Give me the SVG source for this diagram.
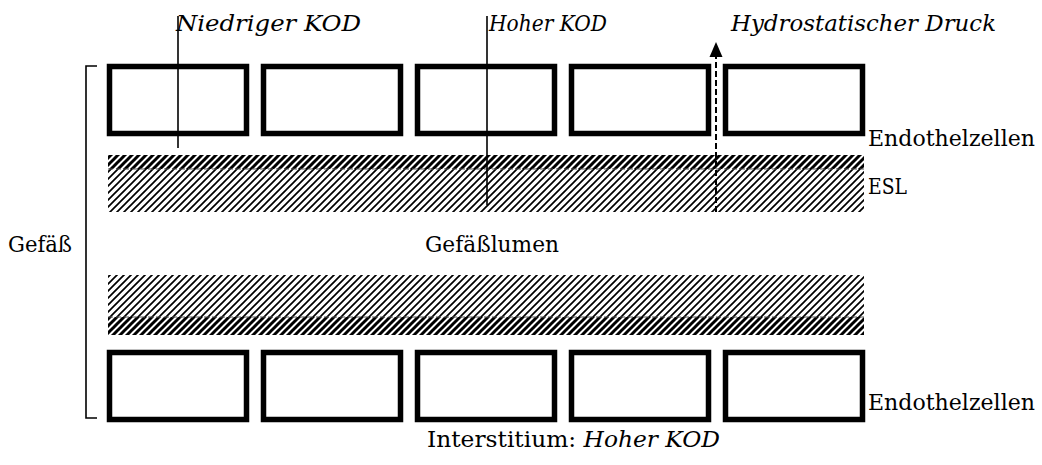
<svg xmlns="http://www.w3.org/2000/svg" width="1042" height="465" viewBox="0 0 1042 465">
<defs>
<pattern id="hl" patternUnits="userSpaceOnUse" width="7" height="7">
<path d="M-1,8 L8,-1 M-1,1 L1,-1 M6,8 L8,6" stroke="#000" stroke-width="1.7"/>
</pattern>
<pattern id="hd" patternUnits="userSpaceOnUse" width="7" height="7">
<path d="M-1,8 L8,-1 M-1,1 L1,-1 M6,8 L8,6" stroke="#000" stroke-width="3"/>
</pattern>
</defs>
<style>
.cell{fill:#fff;stroke:#000;stroke-width:5.5}
text{font-family:'DejaVu Serif','Liberation Serif',serif;font-size:23px;fill:#000}
.i{font-style:italic}
.ln{stroke:#000;stroke-width:1.6;fill:none}
.dash{stroke:#555;stroke-width:1;stroke-dasharray:5,3}
</style>
<g id="top-cells">
<rect class="cell" x="109.5" y="66.5" width="137" height="67"/>
<rect class="cell" x="263.5" y="66.5" width="137" height="67"/>
<rect class="cell" x="417.5" y="66.5" width="137" height="67"/>
<rect class="cell" x="571.5" y="66.5" width="137" height="67"/>
<rect class="cell" x="725.5" y="66.5" width="137" height="67"/>
</g>
<g id="bottom-cells">
<rect class="cell" x="109.5" y="352.5" width="137" height="67"/>
<rect class="cell" x="263.5" y="352.5" width="137" height="67"/>
<rect class="cell" x="417.5" y="352.5" width="137" height="67"/>
<rect class="cell" x="571.5" y="352.5" width="137" height="67"/>
<rect class="cell" x="725.5" y="352.5" width="137" height="67"/>
</g>
<g id="esl-top">
<rect x="108" y="155" width="756" height="14" fill="url(#hd)"/>
<rect x="108" y="169" width="756" height="43" fill="url(#hl)"/>
<line class="dash" x1="108" y1="169" x2="864" y2="169"/>
</g>
<g id="esl-bottom">
<rect x="108" y="275" width="756" height="42" fill="url(#hl)"/>
<rect x="108" y="317" width="756" height="18" fill="url(#hd)"/>
<line class="dash" x1="108" y1="317" x2="864" y2="317"/>
</g>
<g id="bracket">
<path class="ln" d="M97,66 L86,66 L86,418 L97,418"/>
</g>
<g id="connectors">
<line class="ln" x1="178" y1="16" x2="178" y2="148"/>
<line class="ln" x1="487" y1="16" x2="487" y2="205"/>
<line x1="716" y1="212" x2="716" y2="55" stroke="#000" stroke-width="2" stroke-dasharray="6,3"/>
<polygon points="716,42 709.5,57 722.5,57" fill="#000"/>
</g>
<g id="labels">
<text class="i" x="176" y="31" textLength="185" lengthAdjust="spacingAndGlyphs">Niedriger KOD</text>
<text class="i" x="489" y="31" textLength="118" lengthAdjust="spacingAndGlyphs">Hoher KOD</text>
<text class="i" x="731" y="31" textLength="265" lengthAdjust="spacingAndGlyphs">Hydrostatischer Druck</text>
<text x="868" y="146" textLength="167" lengthAdjust="spacingAndGlyphs">Endothelzellen</text>
<text x="868" y="194" textLength="39" lengthAdjust="spacingAndGlyphs">ESL</text>
<text x="8" y="252" textLength="64" lengthAdjust="spacingAndGlyphs">Gefäß</text>
<text x="425" y="252" textLength="134" lengthAdjust="spacingAndGlyphs">Gefäßlumen</text>
<text x="868" y="410" textLength="167" lengthAdjust="spacingAndGlyphs">Endothelzellen</text>
<text x="427" y="447" textLength="293" lengthAdjust="spacingAndGlyphs">Interstitium: <tspan class="i">Hoher KOD</tspan></text>
</g>
</svg>
